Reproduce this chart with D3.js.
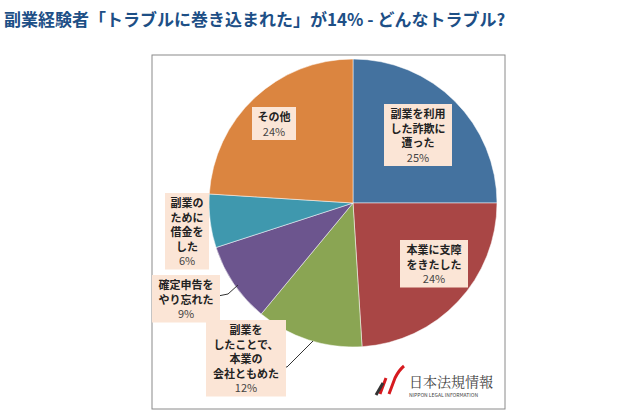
<!DOCTYPE html><html><head><meta charset="utf-8">
<script src="https://cdn.jsdelivr.net/npm/d3@7"></script>
<style>body{margin:0;background:#fff;font-family:"Noto Sans CJK JP",sans-serif}</style></head><body>
<svg id="c" width="640" height="419"></svg>
<script>
const categories=["副業を利用した詐欺に遭った","本業に支障をきたした","副業をしたことで、本業の会社ともめた","確定申告をやり忘れた","副業のために借金をした","その他"];
const values=[25,24,12,9,6,24];
const colors=["#44729f","#a94645","#8aa553","#6c558e","#3f98ae","#db8540"];
const labelLines=[["副業を利用","した詐欺に","遭った"],["本業に支障","をきたした"],["副業を","したことで、","本業の","会社ともめた"],["確定申告を","やり忘れた"],["副業の","ために","借金を","した"],["その他"]];
const labelPos=[[418,104],[434,240],[246,320],[186,275],[187,193],[274,107]];
const svg=d3.select("#c");
svg.append("text").attr("x",4).attr("y",26).attr("font-size",17).attr("font-weight","bold").attr("fill","#1d4f86").text("副業経験者「トラブルに巻き込まれた」が14% - どんなトラブル?");
svg.append("rect").attr("x",152).attr("y",55).attr("width",353).attr("height",354).attr("fill","#fff").attr("stroke","#8a8a8a");
const cx=353,cy=203,r=144;
const pie=d3.pie().sort(null)(values);
const arc=d3.arc().innerRadius(0).outerRadius(r);
const g=svg.append("g").attr("transform",`translate(${cx},${cy})`);
g.selectAll("path").data(pie).join("path").attr("d",arc).attr("fill",(d,i)=>colors[i]).attr("stroke","#fff").attr("stroke-width",0.5);
svg.append("polyline").attr("points","218,296 228,294 238,285").attr("fill","none").attr("stroke","#333");
svg.append("polyline").attr("points","281,367 287,367 313,341").attr("fill","none").attr("stroke","#333");
labelLines.forEach((lines,i)=>{
  const [x,y]=labelPos[i];const all=lines.concat([values[i]+"%"]);
  const w=d3.max(all,t=>t.length*(t.includes("%")?7:12))+8, h=all.length*14.5+4;
  svg.append("rect").attr("x",x-w/2).attr("y",y).attr("width",w).attr("height",h).attr("fill","#fbe5d6");
  all.forEach((t,j)=>svg.append("text").attr("x",x).attr("y",y+14+j*14.5).attr("text-anchor","middle")
    .attr("font-size",11).attr("font-weight",t.includes("%")?"normal":"bold").attr("fill",t.includes("%")?"#444":"#222").text(t));
});
svg.append("path").attr("d","M380,394 L386,378 M389,394 L395,378 Q399,370 404,366").attr("fill","none").attr("stroke","#d61a1f").attr("stroke-width",3);
svg.append("path").attr("d","M376,395 L383,383").attr("stroke","#333").attr("stroke-width",3);
svg.append("text").attr("x",409).attr("y",387).attr("font-size",14).attr("font-family","Noto Serif CJK JP, serif").attr("fill","#444").text("日本法規情報");
svg.append("text").attr("x",409).attr("y",397).attr("font-size",5).attr("fill","#444").text("NIPPON LEGAL INFORMATION");
</script></body></html>
